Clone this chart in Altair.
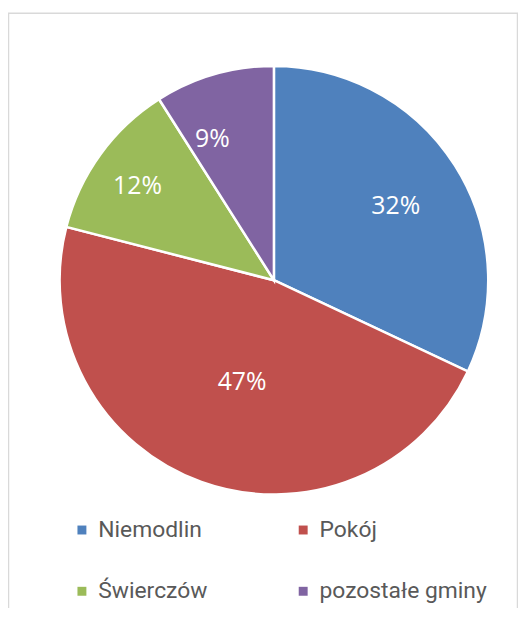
import altair as alt
import pandas as pd

# ---- data ----
categories = ["Niemodlin", "Pokój", "Świerczów", "pozostałe gminy"]
shares = [32, 47, 12, 9]
labels = ["32%", "47%", "12%", "9%"]

# ---- styling / layout ----
colors = ["#4F81BD", "#C0504D", "#9BBB59", "#8064A2"]
label_radius = [144, 108, 167, 155]
label_theta_shift = [0.25, -0.7, -0.4, -2.05]
CX, CY, R = 268, 272, 216
W, H = 514, 600

df = pd.DataFrame({
    "cat": categories,
    "share": shares,
    "label": labels,
    "idx": list(range(len(categories))),
    "lr": label_radius,
    "shift": label_theta_shift,
})

theta_scale = alt.Scale(domain=[0, sum(shares)])

color = alt.Color(
    "cat:N",
    scale=alt.Scale(domain=categories, range=colors),
    sort=categories,
    legend=alt.Legend(
        orient="none", legendX=63, legendY=512, columns=2, direction="horizontal",
        title=None,
        symbolType="square", symbolSize=81, symbolStrokeWidth=0,
        labelFont="Roboto", labelFontSize=23, labelColor="#595959",
        labelOffset=5, columnPadding=85, rowPadding=38, labelLimit=400,
    ),
)

base = alt.Chart(df)

arcs = base.mark_arc(stroke="white", strokeWidth=2.5).encode(
    theta=alt.Theta("share:Q", stack=True, scale=theta_scale),
    color=color,
    order=alt.Order("idx:Q"),
    x=alt.value(CX), y=alt.value(CY),
    radius=alt.value(R),
)

texts = base.transform_window(
    cum="sum(share)", sort=[alt.SortField("idx")]
).transform_calculate(
    mid="datum.cum - datum.share / 2 + datum.shift"
).mark_text(font="Open Sans", fontSize=25, color="white",
            align="center", baseline="middle").encode(
    theta=alt.Theta("mid:Q", stack=None, scale=theta_scale),
    radius=alt.Radius("lr:Q", scale=None),
    text="label:N",
    x=alt.value(CX), y=alt.value(CY),
)

frame = alt.Chart(alt.Data(values=[{}])).mark_rect(
    fill="transparent", stroke="#D9D9D9", strokeWidth=1.5
).encode(x=alt.value(0.5), x2=alt.value(W - 0.5), y=alt.value(3), y2=alt.value(H + 20))

chart = alt.layer(frame, arcs, texts).properties(
    width=W, height=H, padding=0, autosize=alt.AutoSizeParams(type="none")
).configure_view(strokeWidth=0)

chart.save("out.html", embed_options={"renderer": "svg", "actions": False})
